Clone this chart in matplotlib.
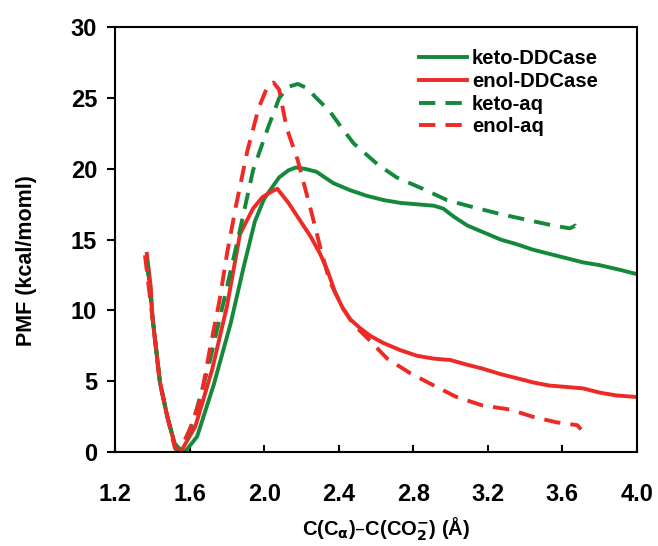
import matplotlib
matplotlib.use("Agg")
import matplotlib.pyplot as plt

plt.rcParams['font.family'] = ['Liberation Sans', 'DejaVu Sans']
plt.rcParams['font.weight'] = 'bold'

GREEN = '#14893c'
RED = '#ee2a24'

# keto in the enzyme
keto_dd_x = [1.37, 1.39, 1.40, 1.44, 1.48, 1.52, 1.56, 1.58, 1.64, 1.73, 1.82, 1.89, 1.95,
             2.00, 2.08, 2.13, 2.17, 2.22, 2.28, 2.37, 2.46, 2.55, 2.64, 2.73, 2.82, 2.91,
             2.96, 3.02, 3.09, 3.18, 3.27, 3.35, 3.44, 3.53, 3.62, 3.71, 3.80, 3.90, 3.99]
keto_dd_y = [13.3, 11.5, 9.5, 4.9, 2.5, 0.6, 0.0, 0.1, 1.1, 4.8, 9.1, 13.1, 16.3,
             17.9, 19.4, 19.9, 20.1, 20.0, 19.8, 19.0, 18.5, 18.1, 17.8, 17.6, 17.5, 17.4,
             17.2, 16.6, 16.0, 15.5, 15.0, 14.7, 14.3, 14.0, 13.7, 13.4, 13.2, 12.9, 12.6]

# enol in the enzyme
enol_dd_x = [1.37, 1.39, 1.40, 1.44, 1.48, 1.53, 1.56, 1.63, 1.72, 1.80, 1.87, 1.94, 1.99,
             2.04, 2.07, 2.13, 2.19, 2.25, 2.30, 2.34, 2.38, 2.42, 2.46, 2.51, 2.57, 2.64,
             2.73, 2.82, 2.91, 3.00, 3.08, 3.17, 3.27, 3.36, 3.45, 3.53, 3.62, 3.71, 3.80,
             3.89, 3.99]
enol_dd_y = [14.0, 11.8, 9.6, 5.0, 2.5, 0.0, 0.2, 1.8, 5.8, 10.3, 15.4, 17.2, 18.0,
             18.4, 18.6, 17.6, 16.4, 15.2, 14.0, 12.8, 11.3, 10.2, 9.4, 8.8, 8.2, 7.7,
             7.2, 6.8, 6.6, 6.5, 6.2, 5.9, 5.5, 5.2, 4.9, 4.7, 4.6, 4.5, 4.2,
             4.0, 3.9]

# keto in water
keto_aq_x = [1.37, 1.40, 1.44, 1.48, 1.53, 1.57, 1.62, 1.70, 1.78, 1.87, 1.94, 2.02, 2.08,
             2.13, 2.18, 2.23, 2.28, 2.35, 2.41, 2.48, 2.61, 2.71, 2.85, 2.98, 3.12, 3.27,
             3.41, 3.55, 3.64, 3.67, 3.70]
keto_aq_y = [13.6, 9.6, 5.0, 2.5, 0.0, 0.5, 2.2, 6.0, 10.5, 15.7, 19.9, 22.9, 25.0,
             25.8, 26.0, 25.7, 25.0, 24.1, 23.0, 21.8, 20.3, 19.4, 18.6, 17.8, 17.3, 16.8,
             16.4, 16.0, 15.8, 16.0, 15.6]

# enol in water
enol_aq_x = [1.36, 1.40, 1.44, 1.48, 1.52, 1.55, 1.60, 1.66, 1.71, 1.76, 1.80, 1.85, 1.91,
             1.97, 2.02, 2.05, 2.08, 2.12, 2.18, 2.25, 2.30, 2.35, 2.42, 2.48, 2.55, 2.66,
             2.78, 2.91, 3.03, 3.17, 3.32, 3.44, 3.57, 3.68, 3.70]
enol_aq_y = [13.9, 9.5, 4.9, 2.5, 0.3, 0.2, 1.6, 3.8, 7.4, 10.7, 14.0, 17.5, 21.3,
             24.3, 25.9, 26.1, 25.6, 22.9, 20.6, 17.1, 14.5, 12.1, 10.2, 9.0, 8.1, 6.6,
             5.6, 4.7, 3.9, 3.3, 3.0, 2.5, 2.1, 1.9, 1.6]

x_ticks = [1.2, 1.6, 2.0, 2.4, 2.8, 3.2, 3.6, 4.0]
y_ticks = [0, 5, 10, 15, 20, 25, 30]

fig = plt.figure(figsize=(6.58, 5.46), dpi=100)
ax = fig.add_axes([0.175, 0.172, 0.793, 0.778])

lw = 2.8
dash = (4.2, 2.6)
ax.plot(keto_dd_x, keto_dd_y, color=GREEN, lw=lw, label='keto-DDCase')
ax.plot(enol_dd_x, enol_dd_y, color=RED, lw=lw, label='enol-DDCase')
ax.plot(keto_aq_x, keto_aq_y, color=GREEN, lw=lw, dashes=dash, label='keto-aq')
ax.plot(enol_aq_x, enol_aq_y, color=RED, lw=lw, dashes=dash, label='enol-aq')

ax.set_xlim(1.2, 4.0)
ax.set_ylim(0, 30)
ax.set_xticks(x_ticks)
ax.set_xticklabels(['%.1f' % v for v in x_ticks])
ax.set_yticks(y_ticks)
ax.tick_params(axis='x', direction='in', length=5, width=1.5, labelsize=17, pad=22)
ax.tick_params(axis='y', direction='out', length=6, width=1.5, labelsize=17, pad=7)
for s in ax.spines.values():
    s.set_linewidth(1.5)

ax.set_ylabel('PMF (kcal/moml)', fontsize=15.5, fontweight='bold')
ax.yaxis.set_label_coords(-0.15, 0.45)
ax.set_xlabel(r'C(C$_\mathbf{\alpha}$)–C(CO$_\mathbf{2}^\mathbf{-}$) (Å)', fontsize=14.5,
              fontweight='bold')
ax.xaxis.set_label_coords(0.52, -0.15)

leg = ax.legend(loc='upper right', bbox_to_anchor=(0.925, 0.948), frameon=False,
                fontsize=14.6, handlelength=2.36, handletextpad=0.25, labelspacing=0.18,
                borderaxespad=0, borderpad=0)

fig.savefig('out.png', dpi=100)
